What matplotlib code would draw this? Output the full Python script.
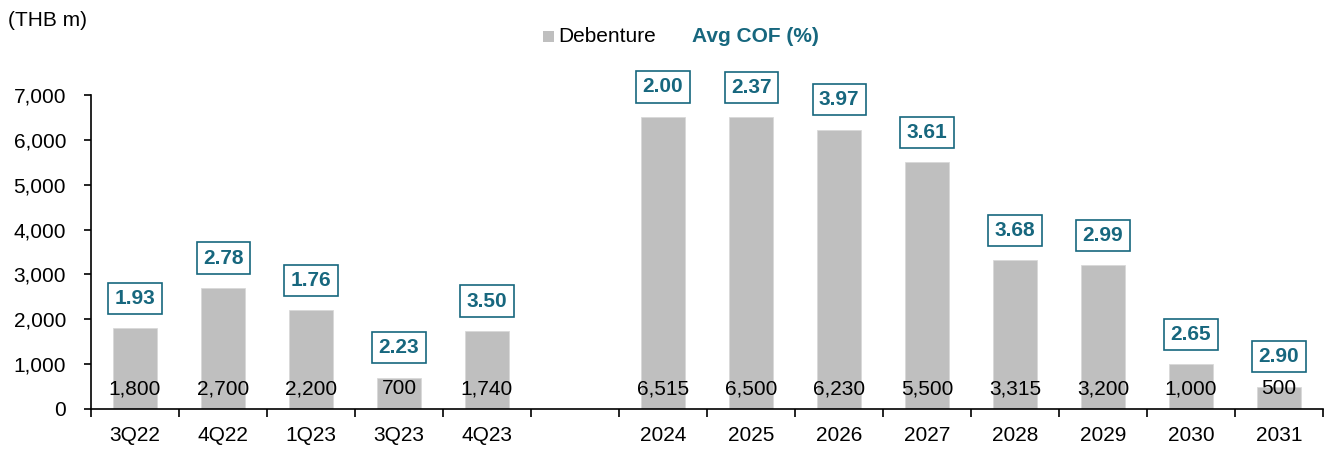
import matplotlib
matplotlib.use("Agg")
import matplotlib.pyplot as plt
import numpy as np
from matplotlib.ticker import FuncFormatter, FixedLocator

plt.rcParams['font.family'] = ['Liberation Sans', 'DejaVu Sans']

categories = ["3Q22", "4Q22", "1Q23", "3Q23", "4Q23", "", "2024", "2025", "2026", "2027", "2028", "2029", "2030", "2031"]
debenture = [1800, 2700, 2200, 700, 1740, None, 6515, 6500, 6230, 5500, 3315, 3200, 1000, 500]
avg_cof = [1.93, 2.78, 1.76, 2.23, 3.50, None, 2.00, 2.37, 3.97, 3.61, 3.68, 2.99, 2.65, 2.90]

BAR = "#BFBFBF"
TEAL = "#17677E"
FS = 15

fig = plt.figure(figsize=(13.26, 4.5), dpi=100)
ax = fig.add_axes([91/1326, 41/450, (1323-91)/1326, (409-95)/450])

x = np.arange(len(categories))
for i, v in enumerate(debenture):
    if v is None:
        continue
    ax.bar(x[i], v, width=0.5, color=BAR, edgecolor="#D9D9D9", linewidth=0.6, zorder=2)
    ax.text(x[i], 450, f"{v:,}", ha="center", va="center", fontsize=FS, color="black", zorder=3)
    c = avg_cof[i]
    ax.annotate(f"{c:.2f}", xy=(x[i], v), xytext=(0, 21.5), textcoords="offset points",
                ha="center", va="center", fontsize=FS, fontweight="bold", color=TEAL,
                bbox=dict(boxstyle="square,pad=0.3", fc="white", ec=TEAL, lw=1.2), zorder=4)

ax.set_xlim(-0.5, len(categories) - 0.5)
ax.set_ylim(0, 7000)
ax.set_yticks(np.arange(0, 7001, 1000))
ax.yaxis.set_major_formatter(FuncFormatter(lambda v, p: f"{int(v):,}"))
ax.tick_params(axis="y", labelsize=FS, direction="out", length=5, width=1.2, pad=13)

ax.set_xticks(x)
ax.set_xticklabels(categories)
ax.tick_params(axis="x", which="major", length=0, labelsize=FS, pad=12)
ax.xaxis.set_minor_locator(FixedLocator(np.arange(-0.5, len(categories), 1.0)))
ax.tick_params(axis="x", which="minor", length=6, width=1.2, direction="out")

for s in ["top", "right"]:
    ax.spines[s].set_visible(False)
for s in ["left", "bottom"]:
    ax.spines[s].set_linewidth(1.2)
    ax.spines[s].set_color("black")

fig.text(8/1326, 1 - 20/450, "(THB m)", ha="left", va="center", fontsize=FS)
fig.patches.append(plt.Rectangle((543/1326, 1 - 42/450), 11/1326, 11/450, transform=fig.transFigure,
                                 facecolor=BAR, edgecolor="none"))
fig.text(558/1326, 1 - 36/450, "Debenture", ha="left", va="center", fontsize=FS)
fig.text(692/1326, 1 - 36/450, "Avg COF (%)", ha="left", va="center", fontsize=FS,
         fontweight="bold", color=TEAL)

fig.savefig("out.png", dpi=100)
